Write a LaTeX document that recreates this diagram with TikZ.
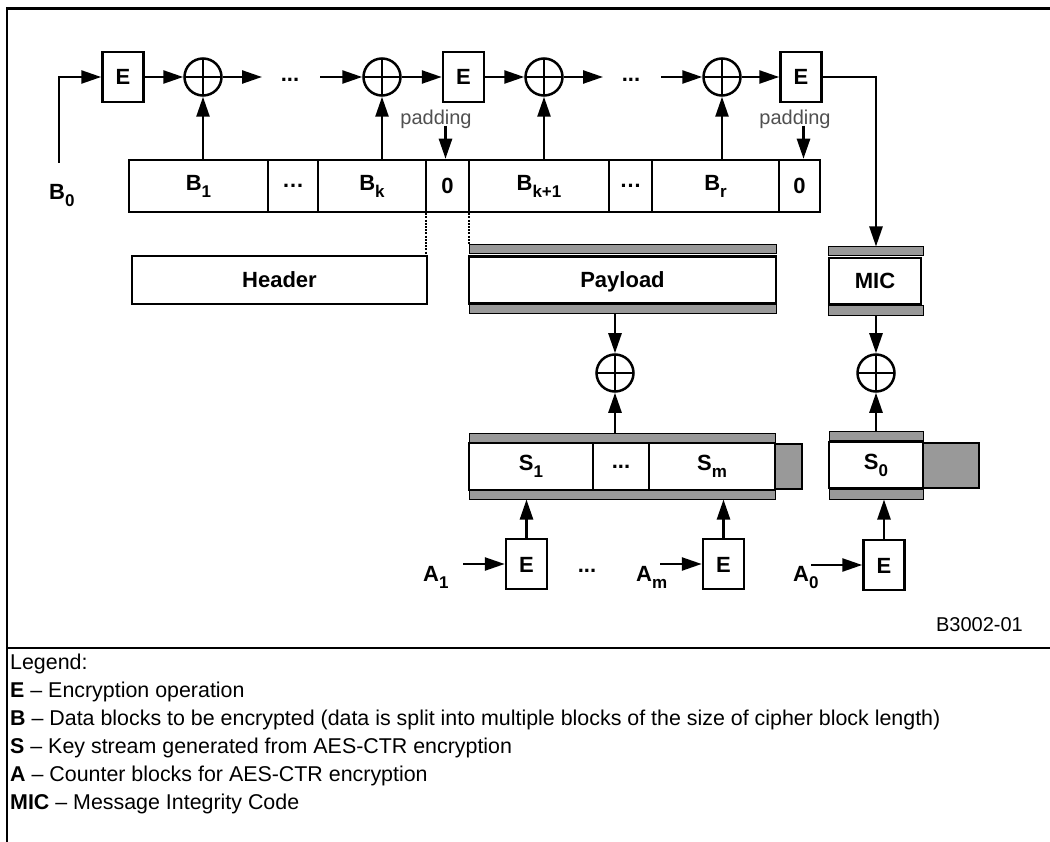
\documentclass[tikz,border=0pt]{standalone}
\usepackage{fontspec}
\setmainfont{Liberation Sans}
\usetikzlibrary{arrows.meta,calc}
\definecolor{barg}{HTML}{999999}
\definecolor{padg}{HTML}{505050}
\newcommand\lblfont{\fontsize{22}{24}\selectfont\bfseries}
\newcommand\sbs[2]{#1\raisebox{-7pt}{\fontsize{17}{17}\selectfont #2}}
\begin{document}
\begin{tikzpicture}[x=1pt,y=-1pt,
  box/.style={draw, line width=2.5pt, inner sep=0pt, font=\lblfont},
  capbox/.style={box, text height=16pt, text depth=0pt},
  ebox/.style={capbox, minimum width=41pt, minimum height=50pt},
  cell/.style={box, minimum height=52pt},
  xor/.style={draw, circle, line width=2.5pt, minimum size=37pt, inner sep=0pt,
    path picture={\draw[line width=2.5pt] (path picture bounding box.north) -- (path picture bounding box.south)
      (path picture bounding box.west) -- (path picture bounding box.east);}},
  arr/.style={line width=2.5pt, -{Triangle[length=20pt,width=13pt]}},
  bar/.style={draw=black, line width=1pt, fill=barg, inner sep=0pt},
  ext/.style={draw=black, line width=2pt, fill=barg, inner sep=0pt},
  dotl/.style={line width=1.8pt, dash pattern=on 2pt off 1.2pt},
  lbl/.style={inner sep=0pt, font=\lblfont},
  pad/.style={inner sep=0pt, text=padg, font=\fontsize{20}{22}\selectfont},
  leg/.style={anchor=west, inner sep=0pt, font=\fontsize{21.4}{24}\selectfont},
  frame/.style={line width=2.5pt}
]
\useasboundingbox (0,0) rectangle (1050,842);
\fill[white] (0,0) rectangle (1050,842);
% frame
\draw[frame] (1050,8.5) -- (7,8.5) -- (7,842);
\draw[frame] (7,648) -- (1050,648);

% top row
\node[ebox] (e1) at (123,77) {E};
\node[xor] (x1) at (203,77) {};
\coordinate (t1) at (262,77);
\node[lbl] (d1) at (290,80) {...};
\coordinate (t2) at (320,77);
\node[xor] (x2) at (382,77) {};
\node[ebox] (e2) at (463.5,77) {E};
\node[xor] (x3) at (544,77) {};
\coordinate (t3) at (603,77);
\node[lbl] (d2) at (631,80) {...};
\coordinate (t4) at (661,77);
\node[xor] (x4) at (722,77) {};
\node[ebox] (e3) at (801,77) {E};

\coordinate (b0s) at (59,163);
\node[lbl, anchor=base west] (b0) at (49,200) {\sbs{B}{0}};

% B row
\node[cell, minimum width=139pt] (b1) at (198.5,186) {\sbs{B}{1}};
\node[cell, minimum width=50pt] (bd1) at (293,186) {…};
\node[cell, minimum width=108pt] (bk) at (372,186) {\sbs{B}{k}};
\node[cell, minimum width=43pt] (z1) at (447.5,186) {0};
\node[cell, minimum width=140pt] (bk1) at (539,186) {\sbs{B}{k+1}};
\node[cell, minimum width=43pt] (bd2) at (630.5,186) {…};
\node[cell, minimum width=127pt] (br) at (715.5,186) {\sbs{B}{r}};
\node[cell, minimum width=41pt] (z2) at (799.5,186) {0};

\node[pad] (p1) at (436,119) {padding};
\node[pad] (p2) at (795,119) {padding};

% Header / Payload / MIC
\node[capbox, minimum width=295pt, minimum height=48pt] (header) at (279.5,280) {Header};
\node[bar, minimum width=307pt, minimum height=9pt] (ptop) at (622.5,249.5) {};
\node[bar, minimum width=307pt, minimum height=9pt] (pbot) at (622.5,309.5) {};
\node[capbox, minimum width=307pt, minimum height=47pt] (pay) at (622.5,280) {Payload};
\node[bar, minimum width=95pt, minimum height=9pt] (mtop) at (876,251.5) {};
\node[bar, minimum width=95pt, minimum height=10pt] (mbot) at (876,310.5) {};
\node[capbox, minimum width=92pt, minimum height=46pt] (mic) at (875,281) {MIC};

\node[xor] (x5) at (615,373) {};
\node[xor] (x6) at (876,373) {};

% S row
\node[bar, minimum width=306pt, minimum height=10pt] (stop) at (622,438) {};
\node[bar, minimum width=306pt, minimum height=9pt] (sbot) at (622,494.5) {};
\node[ext, minimum width=27pt, minimum height=45pt] (sext) at (788.5,466) {};
\node[box, minimum width=124pt, minimum height=47pt] (s1) at (531,466.5) {\sbs{S}{1}};
\node[box, minimum width=56pt, minimum height=47pt] (sd) at (621,466.5) {...};
\node[box, minimum width=126pt, minimum height=47pt] (sm) at (712,466.5) {\sbs{S}{m}};

\node[bar, minimum width=94pt, minimum height=9pt] (s0top) at (876,435.5) {};
\node[bar, minimum width=94pt, minimum height=10pt] (s0bot) at (876,494) {};
\node[ext, minimum width=56pt, minimum height=45pt] (s0ext) at (951,465.5) {};
\node[box, minimum width=94pt, minimum height=46pt] (s0) at (876,465) {\sbs{S}{0}};

% bottom E boxes
\node[ebox] (eb1) at (526.5,564) {E};
\node[ebox] (ebm) at (723.5,564) {E};
\node[ebox] (eb0) at (884,565) {E};
\node[lbl, anchor=base west] (a1) at (423,581) {\sbs{A}{1}};
\coordinate (a1s) at (463,564);
\node[lbl] (d3) at (587,571) {...};
\node[lbl, anchor=base west] (am) at (636,581) {\sbs{A}{m}};
\coordinate (ams) at (660,564);
\node[lbl, anchor=base west] (a0) at (793,581) {\sbs{A}{0}};
\coordinate (a0s) at (811,565);

\node[anchor=east, inner sep=0pt, font=\fontsize{20}{22}\selectfont] (code) at (1023,625) {B3002-01};

% connectors top
\draw[arr] (b0s) |- (e1.west);
\draw[arr] (e1) -- (x1);
\draw[arr] (x1) -- (t1);
\draw[arr] (t2) -- (x2);
\draw[arr] (x2) -- (e2);
\draw[arr] (e2) -- (x3);
\draw[arr] (x3) -- (t3);
\draw[arr] (t4) -- (x4);
\draw[arr] (x4) -- (e3);
\draw[arr] (e3.east) -| (mtop.north);
\draw[arr] (x1 |- b1.north) -- (x1.south);
\draw[arr] (x2 |- bk.north) -- (x2.south);
\draw[arr] (x3 |- bk1.north) -- (x3.south);
\draw[arr] (x4 |- br.north) -- (x4.south);
\draw[arr] ([xshift=-2pt,yshift=33pt]z1.north) -- ([xshift=-2pt]z1.north);
\draw[arr] ([xshift=4pt,yshift=33pt]z2.north) -- ([xshift=4pt]z2.north);
% dotted
\draw[dotl] ([xshift=1.25pt]z1.south west) -- ([xshift=1.25pt]z1.south west |- header.north);
\draw[dotl] ([xshift=-1.25pt]z1.south east) -- ([xshift=-1.25pt]z1.south east |- ptop.north);
% middle
\draw[arr] (x5 |- pbot.south) -- (x5.north);
\draw[arr] (x5 |- stop.north) -- (x5.south);
\draw[arr] (x6 |- mbot.south) -- (x6.north);
\draw[arr] (x6 |- s0top.north) -- (x6.south);
% bottom
\draw[arr] (eb1.north) -- (eb1 |- sbot.south);
\draw[arr] (ebm.north) -- (ebm |- sbot.south);
\draw[arr] (eb0.north) -- (eb0 |- s0bot.south);
\draw[arr] (a1s) -- (eb1.west);
\draw[arr] (ams) -- (ebm.west);
\draw[arr] (a0s) -- (eb0.west);

% legend
\node[leg] (lg0) at (10,664) {Legend:};
\node[leg] (lg1) at (10,692) {\textbf{E} – Encryption operation};
\node[leg] (lg2) at (10,720) {\textbf{B} – Data blocks to be encrypted (data is split into multiple blocks of the size of cipher block length)};
\node[leg] (lg3) at (10,748) {\textbf{S} – Key stream generated from AES-CTR encryption};
\node[leg] (lg4) at (10,776) {\textbf{A} – Counter blocks for AES-CTR encryption};
\node[leg] (lg5) at (10,804) {\textbf{MIC} – Message Integrity Code};
\end{tikzpicture}
\end{document}
